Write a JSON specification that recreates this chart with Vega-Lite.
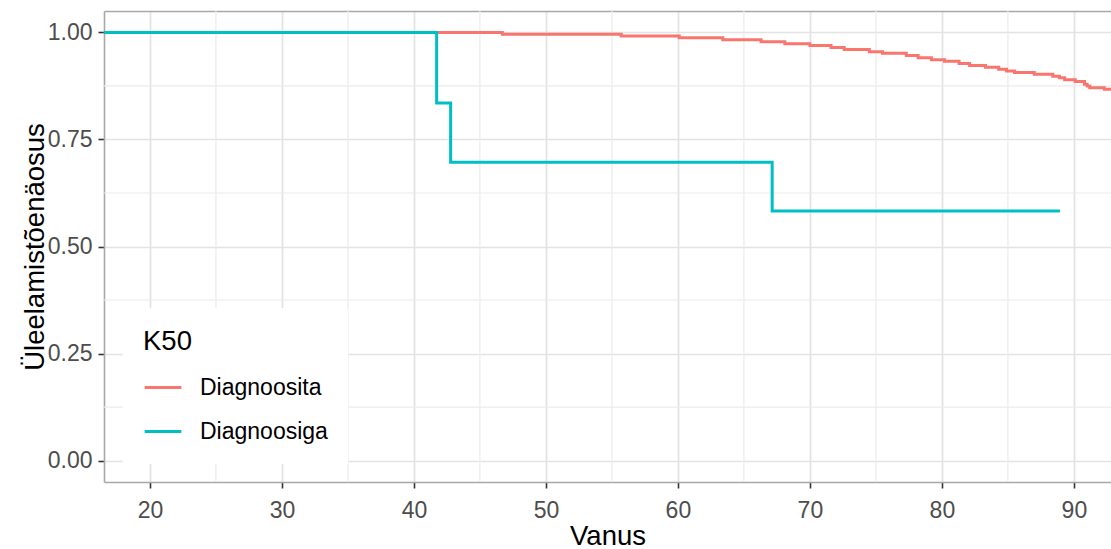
{
  "$schema": "https://vega.github.io/schema/vega-lite/v6.json",
  "width": 1007,
  "height": 471,
  "autosize": {"type": "none"},
  "padding": {"left": 104, "top": 11, "right": 0, "bottom": 67},
  "background": "white",
  "config": {
    "view": {"stroke": null},
    "font": "Liberation Sans",
    "axis": {"titleFontWeight": "normal", "titleColor": "#000000"},
    "legend": {"titleFontWeight": "normal"}
  },
  "datasets": {
    "minorx": [{"mx": 25}, {"mx": 35}, {"mx": 45}, {"mx": 55}, {"mx": 65}, {"mx": 75}, {"mx": 85}],
    "minory": [{"my": 0.125}, {"my": 0.375}, {"my": 0.625}, {"my": 0.875}],
    "km": [
      {"age": 16.5, "surv": 1.0, "K50": "Diagnoosita"},
      {"age": 46.7, "surv": 0.9958, "K50": "Diagnoosita"},
      {"age": 55.7, "surv": 0.9918, "K50": "Diagnoosita"},
      {"age": 60.1, "surv": 0.9876, "K50": "Diagnoosita"},
      {"age": 63.4, "surv": 0.9827, "K50": "Diagnoosita"},
      {"age": 66.3, "surv": 0.9783, "K50": "Diagnoosita"},
      {"age": 68.1, "surv": 0.9736, "K50": "Diagnoosita"},
      {"age": 70.0, "surv": 0.9694, "K50": "Diagnoosita"},
      {"age": 71.6, "surv": 0.9650, "K50": "Diagnoosita"},
      {"age": 72.6, "surv": 0.9603, "K50": "Diagnoosita"},
      {"age": 74.5, "surv": 0.9549, "K50": "Diagnoosita"},
      {"age": 75.5, "surv": 0.9514, "K50": "Diagnoosita"},
      {"age": 77.3, "surv": 0.9463, "K50": "Diagnoosita"},
      {"age": 78.2, "surv": 0.9411, "K50": "Diagnoosita"},
      {"age": 79.2, "surv": 0.9364, "K50": "Diagnoosita"},
      {"age": 80.2, "surv": 0.9325, "K50": "Diagnoosita"},
      {"age": 81.3, "surv": 0.9273, "K50": "Diagnoosita"},
      {"age": 82.1, "surv": 0.9229, "K50": "Diagnoosita"},
      {"age": 83.3, "surv": 0.9189, "K50": "Diagnoosita"},
      {"age": 84.3, "surv": 0.9140, "K50": "Diagnoosita"},
      {"age": 84.9, "surv": 0.9098, "K50": "Diagnoosita"},
      {"age": 85.5, "surv": 0.9065, "K50": "Diagnoosita"},
      {"age": 87.0, "surv": 0.9021, "K50": "Diagnoosita"},
      {"age": 88.4, "surv": 0.8979, "K50": "Diagnoosita"},
      {"age": 88.9, "surv": 0.8939, "K50": "Diagnoosita"},
      {"age": 89.3, "surv": 0.8893, "K50": "Diagnoosita"},
      {"age": 90.1, "surv": 0.8855, "K50": "Diagnoosita"},
      {"age": 90.8, "surv": 0.8792, "K50": "Diagnoosita"},
      {"age": 91.0, "surv": 0.8748, "K50": "Diagnoosita"},
      {"age": 91.2, "surv": 0.8708, "K50": "Diagnoosita"},
      {"age": 92.3, "surv": 0.8673, "K50": "Diagnoosita"},
      {"age": 93.5, "surv": 0.8673, "K50": "Diagnoosita"},
      {"age": 16.5, "surv": 1.0, "K50": "Diagnoosiga"},
      {"age": 41.72, "surv": 0.835, "K50": "Diagnoosiga"},
      {"age": 42.78, "surv": 0.697, "K50": "Diagnoosiga"},
      {"age": 67.14, "surv": 0.583, "K50": "Diagnoosiga"},
      {"age": 88.94, "surv": 0.583, "K50": "Diagnoosiga"}
    ]
  },
  "layer": [
    {
      "data": {"name": "minorx"},
      "mark": {"type": "rule", "color": "#EBEBEB", "strokeWidth": 1.2},
      "encoding": {
        "x": {
          "field": "mx", "type": "quantitative",
          "scale": {"domain": [16.52, 92.81], "nice": false, "zero": false},
          "axis": {"orient": "top", "labels": false, "ticks": false, "grid": false, "title": null,
                   "domain": true, "domainColor": "#A8A8A8", "domainWidth": 1.6}
        }
      }
    },
    {
      "data": {"name": "minory"},
      "mark": {"type": "rule", "color": "#EBEBEB", "strokeWidth": 1.2},
      "encoding": {
        "y": {
          "field": "my", "type": "quantitative",
          "scale": {"domain": [-0.05, 1.05], "nice": false, "zero": false},
          "axis": null
        }
      }
    },
    {
      "data": {"name": "km"},
      "mark": {"type": "line", "interpolate": "step-after", "strokeWidth": 3, "clip": true},
      "encoding": {
        "x": {
          "field": "age", "type": "quantitative",
          "scale": {"domain": [16.52, 92.81], "nice": false, "zero": false},
          "axis": {
            "orient": "bottom", "title": "Vanus", "values": [20, 30, 40, 50, 60, 70, 80, 90],
            "grid": true, "gridColor": "#E3E3E3", "gridWidth": 1.7,
            "domain": true, "domainColor": "#A8A8A8", "domainWidth": 1.6,
            "tickColor": "#333333", "tickSize": 6, "tickWidth": 1.6,
            "labelFontSize": 23, "labelColor": "#4D4D4D", "labelPadding": 11,
            "titleFontSize": 27.5, "titlePadding": 0
          }
        },
        "y": {
          "field": "surv", "type": "quantitative",
          "scale": {"domain": [-0.05, 1.05], "nice": false, "zero": false},
          "axis": {
            "orient": "left", "title": "Üleelamistõenäosus", "values": [0, 0.25, 0.5, 0.75, 1],
            "format": ".2f",
            "grid": true, "gridColor": "#E3E3E3", "gridWidth": 1.7,
            "domain": true, "domainColor": "#A8A8A8", "domainWidth": 1.6,
            "tickColor": "#333333", "tickSize": 6, "tickWidth": 1.6,
            "labelFontSize": 23, "labelColor": "#4D4D4D", "labelPadding": 6,
            "titleFontSize": 27.5, "titlePadding": -2
          }
        },
        "color": {
          "field": "K50", "type": "nominal",
          "scale": {"domain": ["Diagnoosita", "Diagnoosiga"], "range": ["#F8766D", "#00BFC4"]},
          "legend": {
            "title": "K50", "orient": "none", "legendX": 19, "legendY": 297,
            "fillColor": "white", "padding": 20,
            "titleFontSize": 27.5, "titleColor": "#000000", "titlePadding": 12,
            "labelFontSize": 23, "labelColor": "#000000", "labelOffset": 17,
            "symbolType": "stroke", "symbolSize": 1347, "symbolStrokeWidth": 3,
            "rowPadding": 12
          }
        }
      }
    }
  ],
  "resolve": {"axis": {"x": "independent", "y": "independent"}}
}
